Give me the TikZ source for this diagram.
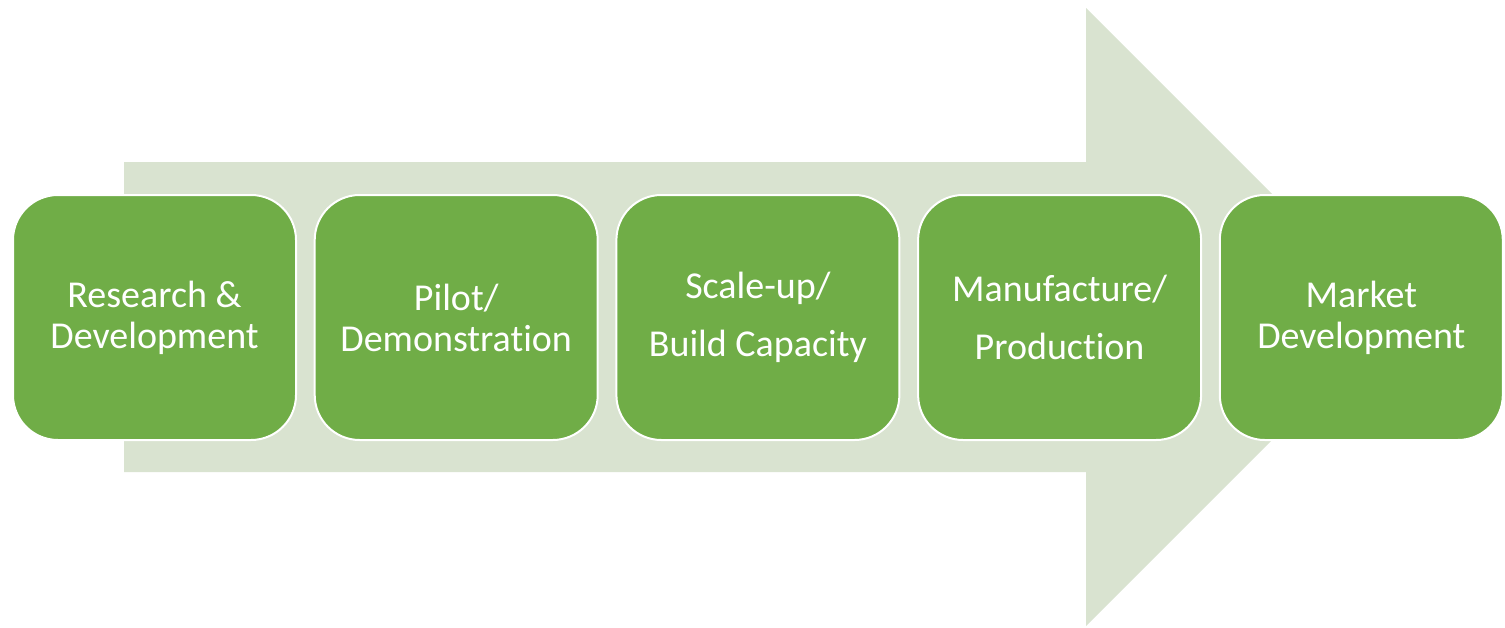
\documentclass[tikz,border=0pt]{standalone}
\usepackage{fontspec}
\setmainfont{Carlito}[Ligatures=NoCommon]
\usetikzlibrary{positioning}
\definecolor{stagegreen}{RGB}{112,173,71}
\definecolor{arrowgreen}{RGB}{217,227,208}
\tikzset{stagebox/.style={
  shape=rectangle,
  rounded corners=22.5pt,
  draw=white,
  line width=1pt,
  fill=stagegreen,
  minimum width=141.5pt,
  minimum height=122.5pt,
  align=center,
  text=white,
  font=\fontsize{19}{20.5}\selectfont,
  }
  }

\begin{document}
\begin{tikzpicture}[x=0.5pt,y=-0.5pt,node distance=8.35pt]
      \useasboundingbox (0,0) rectangle (1505,627);
      % big background arrow
      \fill[arrowgreen] (124,162) -- (1086,162) -- (1086,8) -- (1395,317)
        -- (1086,626) -- (1086,472) -- (124,472) -- cycle;

      \node [stagebox, anchor=west] (rd) at (12,317.5) {Research \&\\Development};
      \node [stagebox, right =of rd] (pilot) {Pilot/\\Demonstration};
      \node [stagebox, right =of pilot] (scale) {Scale-up/\\[8.5pt]Build Capacity};
      \node [stagebox, right =of scale] (manuf) {Manufacture/\\[8.5pt]Production};
      \node [stagebox, right =of manuf] (market) {Market\\Development};
    \end{tikzpicture}
\end{document}
